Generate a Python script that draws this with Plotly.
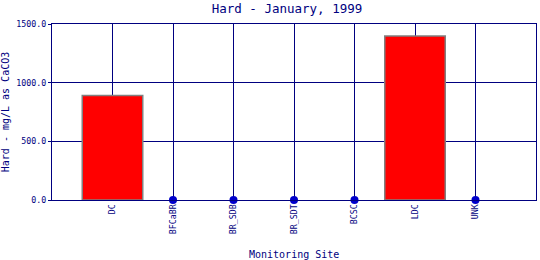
import plotly.graph_objects as go

sites = ["DC", "BFCaBR", "BR_SDB", "BR_SDT", "BCSC", "LDC", "UNK"]
hard = [890, 0, 0, 0, 0, 1398, 0]

navy = "#000080"
font = "DejaVu Sans Mono"

x_idx = list(range(len(sites)))
bar_x = [i for i, v in zip(x_idx, hard) if v > 0]
bar_y = [v for v in hard if v > 0]
dot_x = [i for i, v in zip(x_idx, hard) if v == 0]
dot_y = [v for v in hard if v == 0]

fig = go.Figure()
fig.add_trace(go.Bar(x=bar_x, y=bar_y, width=1,
                     marker=dict(color="#FF0000", line=dict(color="#808080", width=1.5))))
fig.add_trace(go.Scatter(x=dot_x, y=dot_y, mode="markers", cliponaxis=False,
                         marker=dict(color="#0000CC", size=8)))

fig.update_layout(
    width=540, height=260,
    margin=dict(l=52, r=4, t=24, b=60, autoexpand=False),
    plot_bgcolor="white", paper_bgcolor="white",
    showlegend=False,
    title=dict(text="Hard - January, 1999", x=287/540, xanchor="center", y=0.985, yanchor="top",
               font=dict(family=font, size=12.5, color=navy)),
    font=dict(family=font, color=navy),
    annotations=[dict(text="Monitoring Site", xref="x domain", yref="y domain",
                      x=0.5, y=-54/176, xanchor="center", yanchor="middle", showarrow=False,
                      font=dict(family=font, size=10, color=navy))],
)
fig.update_xaxes(
    range=[-1, 7], tickmode="array", tickvals=x_idx, ticktext=sites, tickangle=-90,
    tickfont=dict(family=font, size=8.3, color=navy),
    showgrid=True, gridcolor=navy, gridwidth=1,
    showline=True, linecolor=navy, linewidth=1, mirror=True, zeroline=False,
    ticks="",
)
fig.update_yaxes(
    range=[0, 1500], tickmode="array", tickvals=[0, 500, 1000, 1500],
    ticktext=["0.0", "500.0", "1000.0", "1500.0"],
    tickfont=dict(family=font, size=8.3, color=navy),
    showgrid=True, gridcolor=navy, gridwidth=1,
    showline=True, linecolor=navy, linewidth=1, mirror=True, zeroline=False,
    ticks="outside", ticklen=3, tickcolor=navy,
    title=dict(text="Hard - mg/L as CaCO3", font=dict(family=font, size=10, color=navy), standoff=4),
)
fig.write_html("out.html")
